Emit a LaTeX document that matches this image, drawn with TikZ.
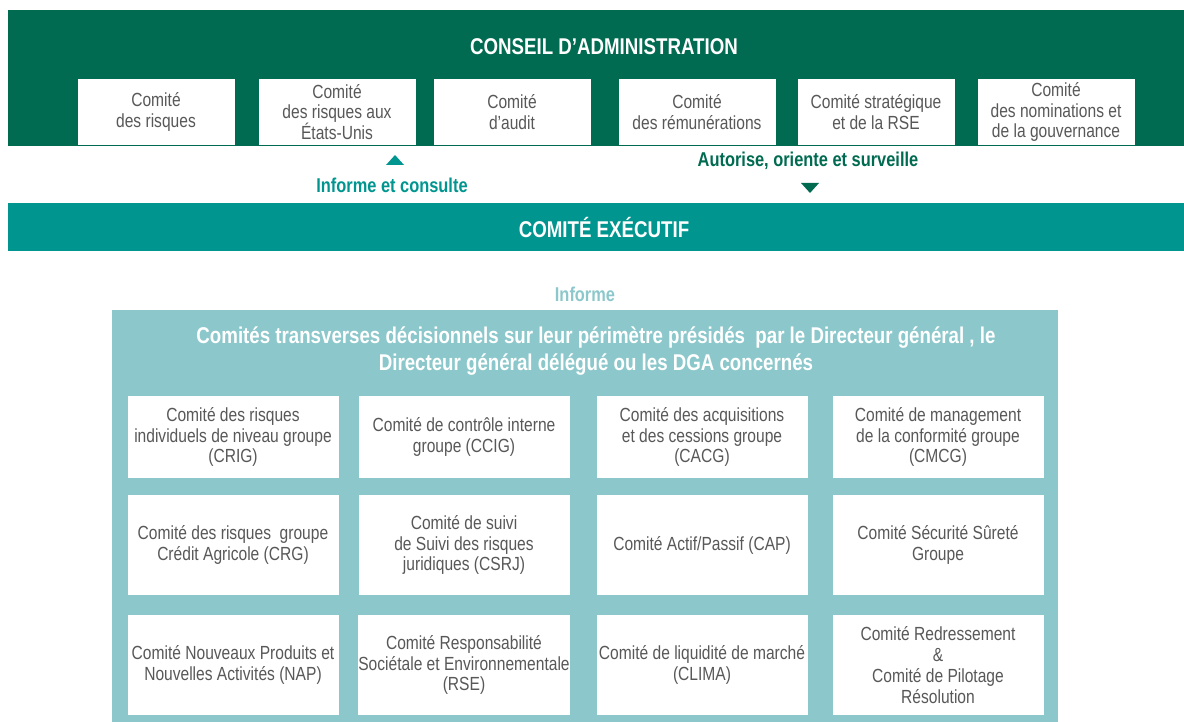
\documentclass[tikz,border=0pt]{standalone}
\usepackage{fontspec}
\setmainfont{Liberation Sans}[FakeStretch=0.82]

\definecolor{boardgreen}{RGB}{0,107,80}
\definecolor{execteal}{RGB}{0,149,143}
\definecolor{lightteal}{RGB}{140,200,203}
\definecolor{boxgray}{RGB}{88,88,88}

\newcommand\headfont{\fontsize{22.8}{26}\selectfont\bfseries}
\newcommand\linkfont{\fontsize{20}{24}\selectfont\bfseries}
\newcommand\transvfont{\fontsize{22.8}{27}\selectfont\bfseries}
\newcommand\boxfont{\fontsize{19}{20.8}\selectfont}

\tikzset{
	band/.style={fill=#1, draw=none, inner sep=0pt},
	headtext/.style={text=white, font=\headfont, inner sep=0pt},
	linktext/.style={font=\linkfont, inner sep=0pt},
	wbox/.style={fill=white, draw=none, align=center, text=boxgray, font=\boxfont, inner sep=0pt},
}

\begin{document}
\begin{tikzpicture}[x=1pt, y=-1pt]
		\def\topw{157}
		\def\toph{66}
		\def\gridw{211}
		\def\mygrid{
			{{Comité des risques\\individuels de niveau groupe\\(CRIG)}, {Comité de contrôle interne\\groupe (CCIG)}, {Comité des acquisitions\\et des cessions groupe\\(CACG)}, {Comité de management\\de la conformité groupe\\(CMCG)}},
			{{Comité des risques\ \ groupe\\Crédit Agricole (CRG)}, {Comité de suivi\\de Suivi des risques\\juridiques (CSRJ)}, {Comité Actif/Passif (CAP)}, {Comité Sécurité Sûreté\\Groupe}},
			{{Comité Nouveaux Produits et\\Nouvelles Activités (NAP)}, {Comité Responsabilité\\Sociétale et Environnementale\\(RSE)}, {Comité de liquidité de marché\\(CLIMA)}, {Comité Redressement\\\&\\Comité de Pilotage\\Résolution}}%
		}
		\useasboundingbox (0,0) rectangle (1184,722);
		
		% conseil d'administration
		\node[band=boardgreen, minimum width=1176pt, minimum height=136pt] (board) at (596,78) {};
		\node[headtext] (boardtitle) at (604,47) {CONSEIL D’ADMINISTRATION};
		\foreach \x/\lbl [count=\i] in {156/{Comité\\des risques}, 337/{Comité\\des risques aux\\États-Unis}, 512/{Comité\\d’audit}, 697/{Comité\\des rémunérations}, 876/{Comité stratégique\\et de la RSE}, 1056/{Comité\\des nominations et\\de la gouvernance}} {
			\node[wbox, minimum width=\topw pt, minimum height=\toph pt] (top\i) at (\x,112) {\lbl};
		}
		
		% links between the two bands
		\node[linktext, text=execteal] (consult) at (392,185) {Informe et consulte};
		\fill[execteal] (386,165) -- ++(18,0) -- ++(-9,-10) -- cycle;
		\node[linktext, text=boardgreen] (oversee) at (808,161) {Autorise, oriente et surveille};
		\fill[boardgreen] (801,183) -- ++(18,0) -- ++(-9,10) -- cycle;
		
		% comite executif
		\node[band=execteal, minimum width=1176pt, minimum height=48pt] (exec) at (596,227) {};
		\node[headtext] (exectitle) at (604,228) {COMITÉ EXÉCUTIF};
		
		\node[linktext, text=lightteal] (inform) at (585,294) {Informe};
		
		% comites transverses
		\node[band=lightteal, minimum width=946pt, minimum height=412pt] (transv) at (585,516) {};
		\node[text=white, align=center, font=\transvfont, inner sep=0pt] (transvtitle) at (596,351)
			{Comités transverses décisionnels sur leur périmètre présidés\ \ par le Directeur général , le\\Directeur général délégué ou les DGA concernés};
		
		% draw committee grid
		\foreach \row [count=\y] in \mygrid {
			\pgfmathsetmacro\cy{{437,545,665}[\y-1]}
			\pgfmathsetmacro\h{{82,100,100}[\y-1]}
			\foreach \elem [count=\x] in \row {
				\pgfmathsetmacro\cx{{233,464,702,938}[\x-1]}
				\node[wbox, minimum width=\gridw pt, minimum height=\h pt] (cell\y\x) at (\cx,\cy) {\elem};
			}
		}
\end{tikzpicture}
\end{document}
